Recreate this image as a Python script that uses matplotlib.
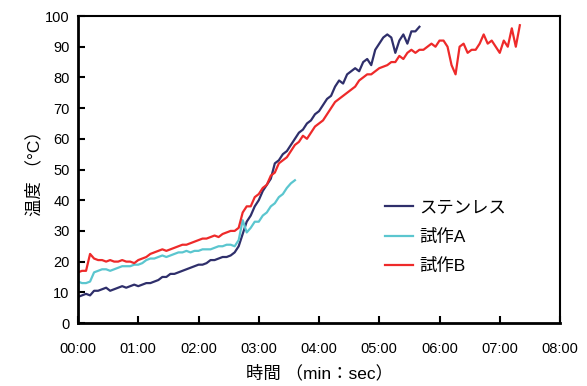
import numpy as np
import matplotlib
matplotlib.use("Agg")
import matplotlib.pyplot as plt
from matplotlib.ticker import FuncFormatter, MultipleLocator

plt.rcParams['font.family'] = ['Liberation Sans', 'Noto Sans CJK JP', 'DejaVu Sans']

step = 4  # seconds between samples

stainless = [8.5, 9, 9.5, 9, 10.5, 10.5, 11, 11.5, 10.5, 11, 11.5, 12, 11.5, 12, 12.5, 12,
             12.5, 13, 13, 13.5, 14, 15, 15, 16, 16, 16.5, 17, 17.5, 18, 18.5, 19, 19,
             19.5, 20.5, 20.5, 21, 21.5, 21.5, 22, 23, 25, 29, 33, 35, 38, 40, 43, 45,
             47, 52, 53, 55, 56, 58, 60, 62, 63, 65, 66, 68, 69, 71, 73, 74, 77, 79,
             78, 81, 82, 83, 82, 85, 86, 84, 89, 91, 93, 94, 93, 88, 92, 94, 91, 95, 95, 96.5]

proto_a = [13.5, 13, 13, 13.5, 16.5, 17, 17.5, 17.5, 17, 17.5, 18, 18.5, 18.5, 18.5, 19, 19,
           19.5, 20.5, 21, 21, 21.5, 22, 21.5, 22, 22.5, 23, 23, 23.5, 23, 23.5, 23.5, 24,
           24, 24, 24.5, 25, 25, 25.5, 25.5, 25, 27, 33.5, 29.5, 31, 33, 33, 35, 36,
           38, 39, 41, 42, 44, 45.5, 46.5]

proto_b = [16.5, 17, 17, 22.5, 21, 20.5, 20.5, 20, 20.5, 20, 20, 20.5, 20, 20, 19.5, 20.5,
           21, 21.5, 22.5, 23, 23.5, 24, 23.5, 24, 24.5, 25, 25.5, 25.5, 26, 26.5, 27, 27.5,
           27.5, 28, 28.5, 28, 29, 29.5, 30, 30, 31, 36, 38, 38, 41, 42, 44, 45,
           48, 49, 52, 53, 54, 56, 58, 59, 61, 60, 62, 64, 65, 66, 68, 70, 72, 73,
           74, 75, 76, 77, 79, 80, 81, 81, 82, 83, 83.5, 84, 85, 85, 87, 86, 88, 89,
           88, 89, 89, 90, 91, 90, 92, 92, 90, 84, 81, 90, 91, 88, 89, 89, 91, 94,
           91, 92, 90, 88, 92, 90, 96, 90, 97]

series = [("ステンレス", stainless, "#2F2F6B"),
          ("試作A", proto_a, "#5BC6CF"),
          ("試作B", proto_b, "#EE2A2A")]

fig = plt.figure(figsize=(5.87, 3.86), dpi=100)
ax = fig.add_axes([0.1329, 0.1632, 0.8211, 0.7953])

for name, vals, col in series:
    t = np.arange(len(vals)) * step
    ax.plot(t, vals, color=col, lw=1.6, label=name)

ax.set_xlim(0, 480)
ax.set_ylim(0, 100)
ax.xaxis.set_major_locator(MultipleLocator(60))
ax.yaxis.set_major_locator(MultipleLocator(10))
ax.xaxis.set_major_formatter(FuncFormatter(lambda v, p: f"{int(v // 60):02d}:{int(v % 60):02d}"))

for s in ['left', 'bottom']:
    ax.spines[s].set_linewidth(2)
for s in ['top', 'right']:
    ax.spines[s].set_linewidth(1.5)

ax.tick_params(axis='both', direction='in', length=5, width=1.5, labelsize=10.5,
               top=False, right=False)
ax.tick_params(axis='x', pad=14)
ax.tick_params(axis='y', pad=6)

ax.set_xlabel("時間 （min：sec）", fontsize=12.5, labelpad=6)
ax.set_ylabel("温度 （°C）", fontsize=12.5, labelpad=2)

leg = ax.legend(loc='center left', bbox_to_anchor=(0.637, 0.28), frameon=False,
                fontsize=12.5, handlelength=1.6, handletextpad=0.4, labelspacing=0.75,
                borderpad=0, borderaxespad=0)

fig.savefig("out.png", dpi=100)
